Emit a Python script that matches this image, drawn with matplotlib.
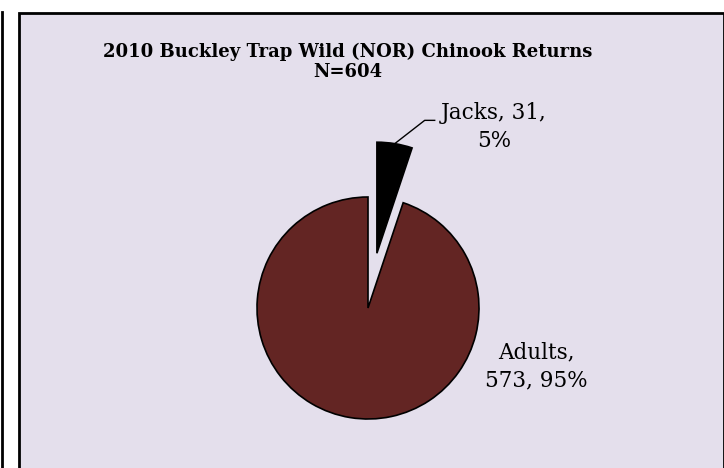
import numpy as np
import matplotlib.pyplot as plt
from matplotlib.patches import Rectangle

# data
categories = ['Adults', 'Jacks']
counts = [573, 31]
pcts = [95, 5]
colors = ['#632523', '#000000']
title = '2010 Buckley Trap Wild (NOR) Chinook Returns\nN=604'

W, H = 724, 468
fig = plt.figure(figsize=(W / 100, H / 100), dpi=100)
fig.patch.set_facecolor('white')

# chart area frame
frame = Rectangle((19 / W, -0.05), (723.5 - 19) / W, (H - 13) / H + 0.05,
                  transform=fig.transFigure, facecolor='#E4DFEC',
                  edgecolor='black', linewidth=2, zorder=-5)
fig.patches.append(frame)
# edge of neighbouring frame on the left
fig.add_artist(plt.Line2D([1.5 / W, 1.5 / W], [0, (H - 12) / H],
                          transform=fig.transFigure, color='black', linewidth=2))

# pie axes (center ~ (368,308), radius ~111 px)
cx, cy, r = 368, 308, 111
ax = fig.add_axes([(cx - r) / W, (H - cy - r) / H, 2 * r / W, 2 * r / H])
ax.set_facecolor('none')
ax.set_zorder(1)
wedges, _ = ax.pie(counts, colors=colors, startangle=90, counterclock=True,
                   explode=[0, 0.5],
                   wedgeprops=dict(edgecolor='black', linewidth=1.2))
for w in wedges:
    w.set_clip_on(False)
ax.set_xlim(-1, 1)
ax.set_ylim(-1, 1)
ax.set_aspect('equal')
ax.axis('off')

font = dict(family='DejaVu Serif', fontsize=15.5, linespacing=1.35)

# Jacks label with leader line from outer arc midpoint
jw = wedges[1]
mid = np.deg2rad((jw.theta1 + jw.theta2) / 2)
px, py = jw.center[0] + np.cos(mid), jw.center[1] + np.sin(mid)
ax.plot([px, px + 0.27, px + 0.36], [py, py + 0.21, py + 0.21],
        color='black', linewidth=1, clip_on=False)
ax.text(1.135, 1.63, f'{categories[1]}, {counts[1]},\n{pcts[1]}%',
        ha='center', va='center', **font)

# Adults label
ax.text(1.52, -0.53, f'{categories[0]},\n{counts[0]}, {pcts[0]}%',
        ha='center', va='center', **font)

fig.text(348 / W, 1 - 62 / H, title, ha='center', va='center',
         family='DejaVu Serif', fontsize=13, fontweight='bold', linespacing=1.15)

fig.savefig('out.png', dpi=100)
